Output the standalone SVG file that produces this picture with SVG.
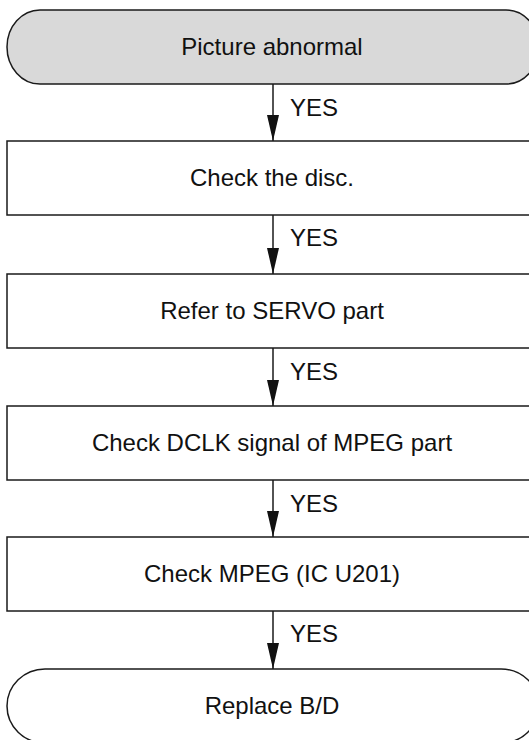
<svg xmlns="http://www.w3.org/2000/svg" width="529" height="740" viewBox="0 0 529 740">
  <style>
    .shape { fill: #ffffff; stroke: #1a1a1a; stroke-width: 1.5; }
    .start { fill: #d9d9d9; stroke: #1a1a1a; stroke-width: 1.5; }
    .label { font-family: "Liberation Sans", Arial, Helvetica, sans-serif; font-size: 24px; fill: #111111; text-anchor: middle; }
    .yes { font-family: "Liberation Sans", Arial, Helvetica, sans-serif; font-size: 24px; fill: #111111; text-anchor: start; }
    .conn { stroke: #1a1a1a; stroke-width: 1.5; fill: none; marker-end: url(#arrow); }
  </style>
  <defs>
    <marker id="arrow" markerUnits="userSpaceOnUse" markerWidth="26" markerHeight="12" viewBox="0 0 26 12" refX="26" refY="6" orient="auto">
      <path d="M0,0 L26,6 L0,12 z" fill="#111111"/>
    </marker>
  </defs>
  <rect width="529" height="740" fill="#ffffff"/>

  <g id="n-start">
    <rect class="start" x="7" y="10" width="532" height="74" rx="33" ry="37"/>
    <text class="label" x="272" y="55">Picture abnormal</text>
  </g>
  <g id="n-disc">
    <rect class="shape" x="7" y="141" width="532" height="74"/>
    <text class="label" x="272" y="186">Check the disc.</text>
  </g>
  <g id="n-servo">
    <rect class="shape" x="7" y="274" width="532" height="74"/>
    <text class="label" x="272" y="319">Refer to SERVO part</text>
  </g>
  <g id="n-dclk">
    <rect class="shape" x="7" y="406" width="532" height="74"/>
    <text class="label" x="272" y="451">Check DCLK signal of MPEG part</text>
  </g>
  <g id="n-mpeg">
    <rect class="shape" x="7" y="537" width="532" height="74"/>
    <text class="label" x="272" y="582">Check MPEG (IC U201)</text>
  </g>
  <g id="n-end">
    <rect class="shape" x="7" y="669" width="532" height="74" rx="38" ry="37"/>
    <text class="label" x="272" y="714">Replace B/D</text>
  </g>

  <g id="connectors">
    <line class="conn" x1="273" y1="84" x2="273" y2="141"/>
    <text class="yes" x="290" y="116">YES</text>
    <line class="conn" x1="273" y1="215" x2="273" y2="274"/>
    <text class="yes" x="290" y="246">YES</text>
    <line class="conn" x1="273" y1="348" x2="273" y2="406"/>
    <text class="yes" x="290" y="380">YES</text>
    <line class="conn" x1="273" y1="480" x2="273" y2="537"/>
    <text class="yes" x="290" y="512">YES</text>
    <line class="conn" x1="273" y1="611" x2="273" y2="669"/>
    <text class="yes" x="290" y="642">YES</text>
  </g>
</svg>
